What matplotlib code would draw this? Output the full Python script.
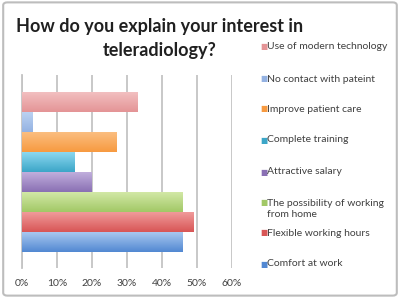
import numpy as np
import matplotlib
matplotlib.use('Agg')
import matplotlib.pyplot as plt
from matplotlib.colors import LinearSegmentedColormap
from matplotlib.patches import FancyBboxPatch

plt.rcParams['font.family'] = ['Lato', 'DejaVu Sans']

# series, top to bottom as drawn
labels = ['Use of modern technology', 'No contact with pateint', 'Improve patient care',
          'Complete training', 'Attractive salary', 'The possibility of working\nfrom home',
          'Flexible working hours', 'Comfort at work']
values = [33, 3, 27, 15, 20, 46, 49, 46]
tops = ['#F2BFC0', '#BBD2F2', '#FBBE80', '#8CD8F0', '#C0AEDC', '#D2E8A6', '#F09A9A', '#A8C8F0']
bottoms = ['#E49496', '#94B2E2', '#F79A40', '#3CA6C8', '#8A70B4', '#A2C866', '#D85656', '#5288D2']
xticks = [0, 10, 20, 30, 40, 50, 60]

fig = plt.figure(figsize=(4.0, 2.98), dpi=100)
fig.patches.append(FancyBboxPatch((0.008, 0.008), 0.984, 0.984, boxstyle='round,pad=0,rounding_size=0.01',
                                  transform=fig.transFigure, fc='white', ec='#BDBDBD', lw=1.5, zorder=-1))

ax = fig.add_axes([0.055, 0.1007, 0.524, 0.647])
n = len(values)
h = 1.0
for i, (v, c1, c2) in enumerate(zip(values, tops, bottoms)):
    y0 = (n / 2 - i - 1) * h
    cmap = LinearSegmentedColormap.from_list('g%d' % i, [c2, c1])
    grad = np.linspace(0, 1, 50).reshape(-1, 1)
    ax.imshow(grad, cmap=cmap, aspect='auto', origin='lower',
              extent=[0, v, y0, y0 + h], zorder=3, interpolation='bilinear')

ax.set_xlim(0, 60)
ax.set_ylim(-4.825, 4.825)
ax.set_xticks(xticks)
ax.set_xticklabels(['%d%%' % t for t in xticks], fontsize=7.5, color='#404040')
ax.set_yticks([])
ax.tick_params(axis='x', length=0, pad=8)
ax.grid(axis='x', color='#C4C4C4', lw=1.3, zorder=0)
for s in ['top', 'right', 'bottom']:
    ax.spines[s].set_visible(False)
ax.spines['left'].set_color('#C4C4C4')
ax.spines['left'].set_linewidth(1.3)

fig.text(0.40, 0.91, 'How do you explain your interest in', ha='center', va='center',
         fontsize=13, fontweight='bold', color='#202020')
fig.text(0.40, 0.832, 'teleradiology?', ha='center', va='center',
         fontsize=13, fontweight='bold', color='#202020')

# legend, one entry per series
leg_y = [47, 79, 109, 140, 172, 209, 233, 264]
for lab, c, yp in zip(labels, bottoms, leg_y):
    yy = 1 - yp / 298
    first = 1 - (yp - 6.5) / 298 if '\n' in lab else yy
    fig.text(0.652, first, '\u25A0', color=c, fontsize=5.5, ha='left', va='center')
    fig.text(0.668, yy, lab, fontsize=7.5, color='#404040', ha='left', va='center',
             linespacing=1.25)

fig.savefig('out.png', dpi=100)
